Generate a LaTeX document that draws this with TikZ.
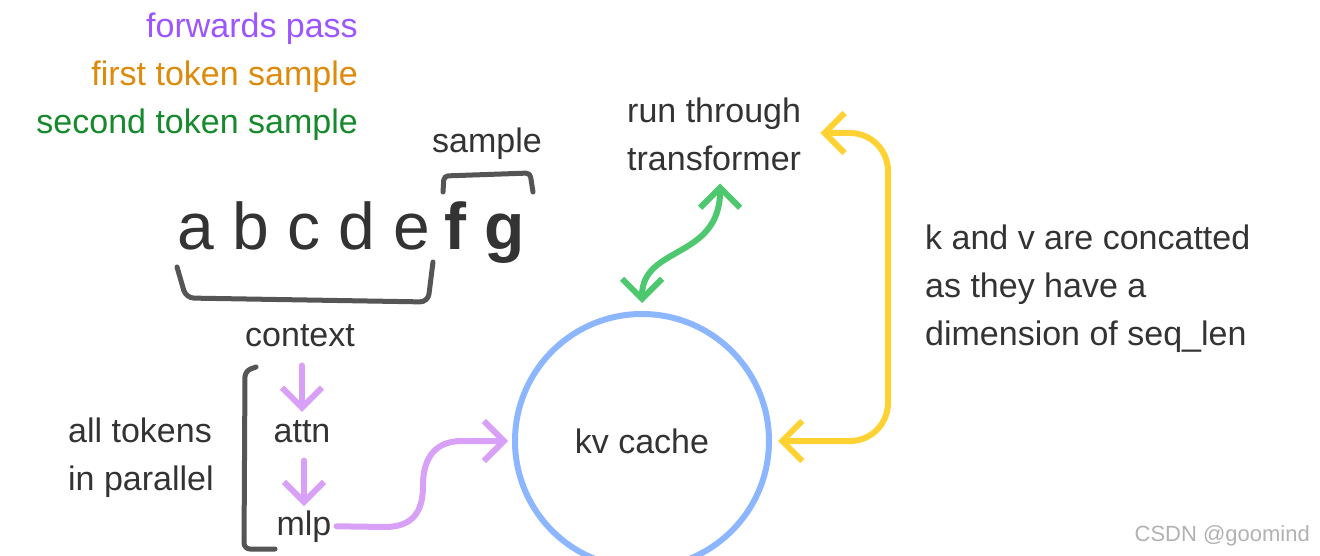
\documentclass[tikz,border=0pt]{standalone}
\usepackage{fontspec}
\setmainfont{Liberation Sans}
\usetikzlibrary{arrows.meta}
\definecolor{txtc}{HTML}{333333}
\definecolor{brkc}{HTML}{555555}
\definecolor{fwdc}{HTML}{9E55FF}
\definecolor{ftsc}{HTML}{DE8A0A}
\definecolor{stsc}{HTML}{168A2C}
\definecolor{pcol}{HTML}{D9A0F7}
\definecolor{gcol}{HTML}{4DC86F}
\definecolor{ycol}{HTML}{FFD233}
\definecolor{bcol}{HTML}{8CB6FF}
\tikzset{
  txt/.style={font=\fontsize{34}{48}\selectfont, text=txtc, inner sep=0pt},
  bigtxt/.style={font=\fontsize{66}{66}\selectfont, text=txtc, inner sep=0pt},
  conn/.style={line width=6pt, line cap=round, line join=round},
  brk/.style={line width=5pt, draw=brkc, line cap=round, line join=round},
  >={Straight Barb[length=20pt,width=40pt]},
}
\begin{document}
\begin{tikzpicture}[x=1pt,y=-1pt]
\useasboundingbox[fill=white] (0,0) rectangle (1320,556);
% legend
\node[txt, text=fwdc, anchor=base east] (fp) at (358,38) {forwards pass};
\node[txt, text=ftsc, anchor=base east] (fts) at (358,86) {first token sample};
\node[txt, text=stsc, anchor=base east] (sts) at (358,134) {second token sample};
% letters
\node[txt, anchor=base] (smp) at (487,153) {sample};
\node[bigtxt, anchor=base west] (ctx) at (177,250) {a b c d e};
\node[bigtxt, anchor=base west, font=\fontsize{66}{66}\selectfont\bfseries] (fg) at (444,250) {f g};
\draw[brk, rounded corners=4pt] (443,192) -- (444,176) -- (530,173) -- (533,192);
\draw[brk, rounded corners=8pt] (177,267) -- (186,298) -- (428,302) -- (433,262);
\node[txt, anchor=base] (context) at (300,346) {context};
% pipeline
\node[txt, anchor=base] (attn) at (302,442) {attn};
\node[txt, anchor=base] (mlp) at (304,535) {mlp};
\draw[brk, rounded corners=6pt] (256,367) -- (245,371) -- (244,549) -- (275,549);
\node[txt, anchor=base west, align=left] (all) at (68,490) {all tokens\\in parallel};
\draw[conn, pcol, ->, shorten <=19pt, shorten >=8pt] (attn.north |- context.south) -- (attn.north);
\draw[conn, pcol, ->, shorten <=18pt, shorten >=4pt] (mlp.north |- attn.south) -- (mlp.north);
% kv cache
\node[txt, circle, draw=bcol, line width=6pt, minimum size=254pt] (kv) at (642,441) {kv cache};
\draw[conn, pcol, ->, shorten <=5pt, shorten >=4pt] (mlp.east) -- (385,527) .. controls (418,527) and (423,505) .. (423,485) .. controls (423,462) and (432,441) .. (462,441) -- (kv.west);
% transformer
\node[txt, anchor=base west, align=left] (rt) at (627,171) {run through\\transformer};
\draw[conn, gcol, <->, shorten <=8pt, shorten >=12pt] (kv.north) .. controls (642,245) and (720,260) .. ([xshift=6pt]rt.south);
\coordinate (rtE) at ([xshift=19pt]rt.east);
\draw[conn, ycol, <->, rounded corners=38pt] (rtE |- 0,133) -- (888,133) -- (888,441) -- ([xshift=6pt]kv.east);
% explanation
\node[txt, anchor=base west, align=left] (kvtxt) at (925,345) {k and v are concatted\\as they have a\\dimension of seq\_len};
% watermark
\node[font=\fontsize{22}{22}\selectfont, text=black!30, anchor=base east, inner sep=0pt] (wm) at (1310,541) {CSDN @goomind};
\end{tikzpicture}
\end{document}
